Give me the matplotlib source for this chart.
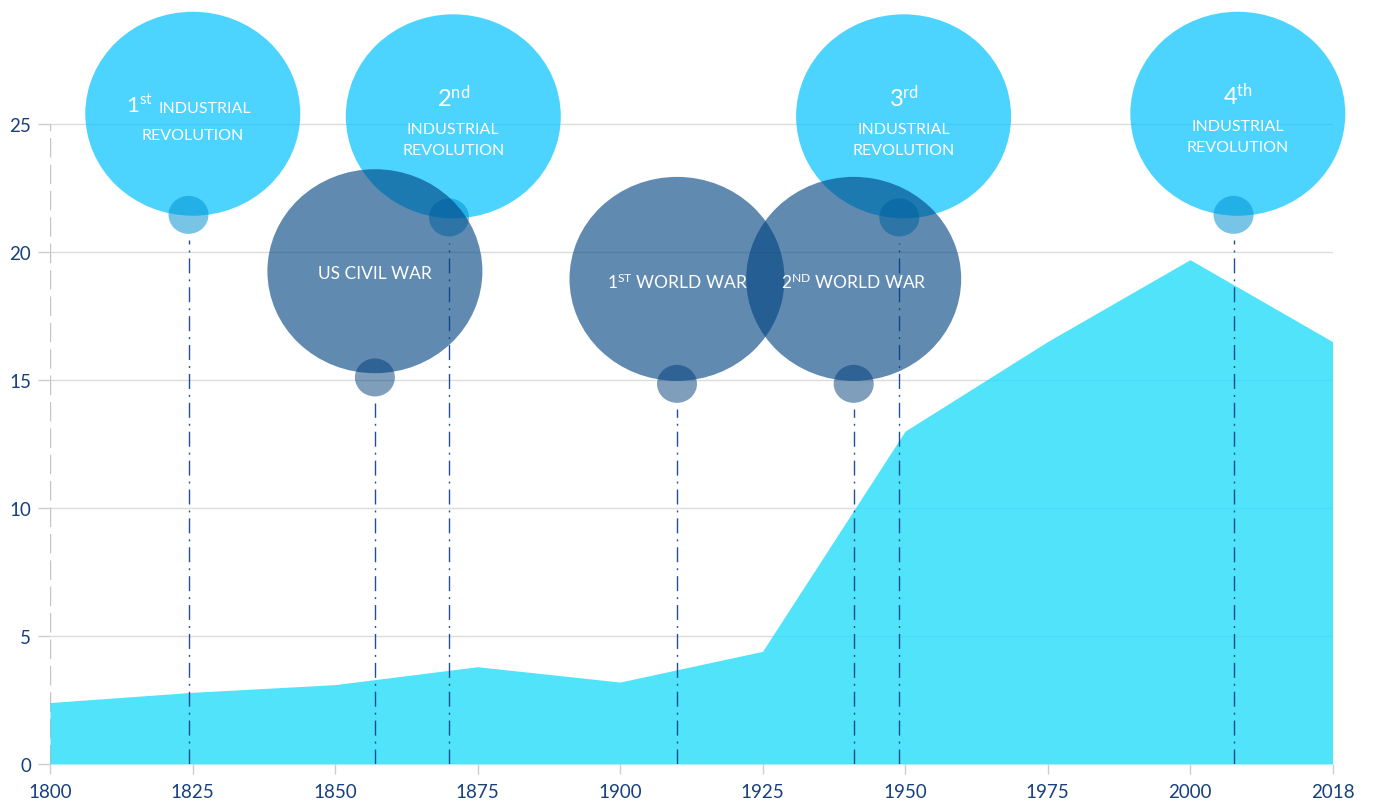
import numpy as np
import matplotlib
matplotlib.use("Agg")
import matplotlib.pyplot as plt
from matplotlib.patches import Ellipse

plt.rcParams['font.family'] = ['Lato', 'DejaVu Sans']
plt.rcParams['mathtext.fontset'] = 'custom'
plt.rcParams['mathtext.rm'] = 'Lato'

# ---------------- data ----------------
years = [1800, 1825, 1850, 1875, 1900, 1925, 1950, 1975, 2000, 2018]
values = [2.4, 2.8, 3.1, 3.8, 3.2, 4.4, 13.0, 16.5, 19.7, 16.5]
y_ticks = [0, 5, 10, 15, 20, 25]

event_labels = ["1st INDUSTRIAL\nREVOLUTION", "2nd\nINDUSTRIAL\nREVOLUTION",
                "3rd\nINDUSTRIAL\nREVOLUTION", "4th\nINDUSTRIAL\nREVOLUTION",
                "US CIVIL WAR", "1ST WORLD WAR", "2ND WORLD WAR"]
event_years = [1824.3, 1870, 1949, 2005.5, 1857, 1910, 1941]
event_kind = ["industrial", "industrial", "industrial", "industrial", "war", "war", "war"]
event_bubble_y = [25.4, 25.3, 25.3, 25.4, 19.25, 18.95, 18.95]
event_stem_y = [21.45, 21.35, 21.35, 21.45, 15.1, 14.85, 14.85]

# ---------------- styles ----------------
W, H = 1375, 803
fig = plt.figure(figsize=(W / 100, H / 100), dpi=100)
ax = fig.add_axes([50 / W, 38 / H, 1282.5 / W, 765 / H])

idx = np.arange(len(years))
ax.set_xlim(0, len(years) - 1)
ax.set_ylim(0, 765 / 25.6)

navy = "#17407E"
light_big = (0 / 255, 194 / 255, 255 / 255, 0.70)
light_small = (0 / 255, 145 / 255, 211 / 255, 0.53)
dark_big = (0 / 255, 67 / 255, 129 / 255, 0.62)
dark_small = (0 / 255, 62 / 255, 122 / 255, 0.50)
area_col = (41 / 255, 221 / 255, 250 / 255, 0.82)

# grid
for yv in y_ticks[1:]:
    ax.axhline(yv, color="#dcdcdc", lw=1.0, zorder=0)
ax.plot([0, 0], [0, y_ticks[-1]], color="#c4c4c4", lw=1.0,
        dashes=(14, 5), zorder=1, solid_capstyle='butt')

# area
ax.fill_between(idx, 0, values, color=area_col, lw=0, zorder=2)

# ticks
ax.set_xticks(idx)
ax.set_xticklabels([str(y) for y in years])
ax.set_yticks(y_ticks)
ax.set_yticklabels([str(v) for v in y_ticks])
ax.tick_params(axis='x', length=7.5, width=1, color="#cccccc", pad=6,
               labelsize=13.5, labelcolor=navy)
ax.tick_params(axis='y', length=8.5, width=1, color="#cccccc", pad=5,
               labelsize=13.5, labelcolor=navy)
for s in ax.spines.values():
    s.set_visible(False)

# events
ev_x = np.interp(event_years, years, idx)
bw = 215 / 142.5          # bubble width in category units
bh = 204 / 25.6           # bubble height in data units
sw = 40 / 142.5
sh = 38 / 25.6

for k in range(len(event_labels)):
    x = ev_x[k]
    z = 4 + k
    industrial = event_kind[k] == "industrial"
    dx = 0.03 if industrial else 0.0
    big_c = light_big if industrial else dark_big
    small_c = light_small if industrial else dark_small
    # stem line
    ax.plot([x, x], [0, event_stem_y[k] - 1.0], color="#0B3C8C", alpha=0.9,
            lw=1.0, dashes=(10.8, 4.3, 1.4, 4.3), zorder=3)
    ax.add_patch(Ellipse((x + dx, event_bubble_y[k]), bw, bh, color=big_c,
                         lw=0, zorder=z, clip_on=False))
    ax.add_patch(Ellipse((x, event_stem_y[k]), sw, sh, color=small_c,
                         lw=0, zorder=z + 0.1, clip_on=False))
    lab = event_labels[k]
    cx, cy = x + dx, event_bubble_y[k]
    tkw = dict(color="white", va="center", zorder=z + 0.2,
               textcoords="offset points", xycoords="data", annotation_clip=False)
    if industrial and lab.count("\n") == 2:
        num, rest = lab.split("\n", 1)
        num_tex = r"$\mathregular{%s^{%s}}$" % (num[0], num[1:])
        ax.annotate(num_tex, (cx, cy), xytext=(0, 14), fontsize=17, ha="center", **tkw)
        ax.annotate(rest, (cx, cy), xytext=(0, -16.5), fontsize=11.5,
                    linespacing=1.6, ha="center", **tkw)
    elif industrial:
        first, rest = lab.split("\n", 1)
        num, word = first.split(" ", 1)
        num_tex = r"$\mathregular{%s^{%s}}$" % (num[0], num[1:])
        ax.annotate(num_tex, (cx, cy), xytext=(-28.5, 6.5), fontsize=16,
                    ha="right", **tkw)
        ax.annotate(word, (cx, cy), xytext=(-25, 4.5), fontsize=11.5,
                    ha="left", **tkw)
        ax.annotate(rest, (cx, cy), xytext=(0, -15.5), fontsize=11.5,
                    ha="center", **tkw)
    else:
        if lab[0].isdigit():
            num, word = lab.split(" ", 1)
            txt = r"$\mathregular{%s^{%s}}$ %s" % (num[0], num[1:], word)
            off = -2
        else:
            txt = lab
            off = -1
        ax.annotate(txt, (cx, cy), xytext=(0, off), fontsize=12.5, ha="center", **tkw)

fig.savefig("out.png", dpi=100)
